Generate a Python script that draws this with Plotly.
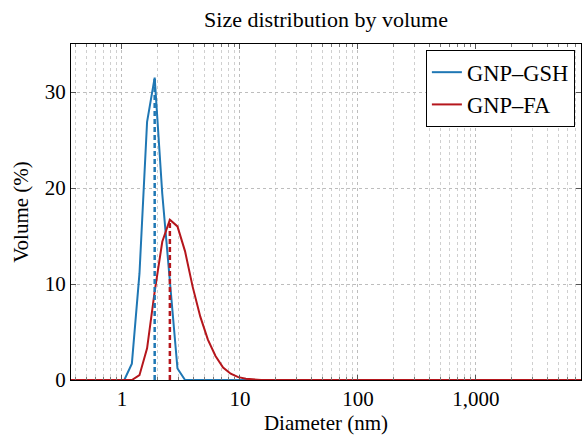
import plotly.graph_objects as go
import numpy as np

# Diameter bins (nm) and volume (%)
gsh_diam = [0.37, 1.046, 1.213, 1.407, 1.632, 1.893, 2.195, 2.546, 2.953, 3.425, 8000]
gsh_vol = [0, 0, 1.7, 11.1, 26.9, 31.5, 19.4, 10.3, 1.2, 0, 0]

fa_diam = [0.37, 1.213, 1.407, 1.632, 1.893, 2.195, 2.546, 2.953, 3.425, 3.974, 4.610,
           5.346, 6.201, 7.193, 8.342, 9.674, 11.22, 13.01, 15.09, 8000]
fa_vol = [0, 0, 0.5, 3.3, 9.2, 14.4, 16.7, 16.0, 13.4, 9.7, 6.6,
          4.2, 2.5, 1.3, 0.65, 0.3, 0.12, 0.04, 0, 0]

x_tickvals = [1, 10, 100, 1000]
x_ticktext = ["1", "10", "100", "1,000"]
y_tickvals = [0, 10, 20, 30]

BLUE = "#1f77b4"
RED = "#b5161c"
FONT = "Liberation Serif"

fig = go.Figure()
fig.add_trace(go.Scatter(x=gsh_diam, y=gsh_vol, mode="lines", name="GNP–GSH",
                         line=dict(color=BLUE, width=2)))
fig.add_trace(go.Scatter(x=fa_diam, y=fa_vol, mode="lines", name="GNP–FA",
                         line=dict(color=RED, width=2)))

# dashed markers at peak positions
for d, v, c in [(gsh_diam, gsh_vol, BLUE), (fa_diam, fa_vol, RED)]:
    i = int(np.argmax(v))
    fig.add_trace(go.Scatter(x=[d[i], d[i]], y=[0, v[i]], mode="lines", showlegend=False,
                             line=dict(color=c, width=2.5, dash="5px,3px"), hoverinfo="skip"))

fig.update_layout(
    width=583, height=435,
    margin=dict(l=71, r=2, t=44, b=55, autoexpand=False),
    paper_bgcolor="white", plot_bgcolor="white",
    font=dict(family=FONT, size=21, color="black"),
    title=dict(text="Size distribution by volume", x=326 / 583, xanchor="center",
               y=1 - 19 / 435, yanchor="middle", font=dict(size=22)),
    legend=dict(x=0.988, y=0.982, xanchor="right", yanchor="top",
                bordercolor="black", borderwidth=1, bgcolor="white",
                font=dict(size=22.5), tracegroupgap=0, itemwidth=30),
    showlegend=True,
)
fig.update_xaxes(
    type="log", range=[-0.432, 3.89], automargin=False,
    tickvals=x_tickvals, ticktext=x_ticktext,
    ticks="inside", ticklen=5, tickcolor="#555",
    showline=True, linecolor="black", linewidth=1, mirror="ticks",
    showgrid=True, gridcolor="#bdbdbd", griddash="3px,3px", gridwidth=1,
    minor=dict(ticks="inside", ticklen=3, tickcolor="#777", dtick="D1",
               showgrid=True, gridcolor="#cfcfcf", griddash="3px,3px", gridwidth=1),
    title=dict(text="Diameter (nm)", standoff=6, font=dict(size=21)),
    tickfont=dict(size=21), zeroline=False,
)
fig.update_yaxes(
    range=[0, 35], tickvals=y_tickvals, automargin=False,
    ticks="inside", ticklen=5, tickcolor="#555",
    showline=True, linecolor="black", linewidth=1, mirror="ticks",
    showgrid=True, gridcolor="#bdbdbd", griddash="3px,3px", gridwidth=1,
    title=dict(text="Volume (%)", standoff=10, font=dict(size=21)),
    tickfont=dict(size=21), zeroline=False,
)
fig.write_html("out.html", config={"displayModeBar": False},
               post_script="document.body.style.margin='0';")
